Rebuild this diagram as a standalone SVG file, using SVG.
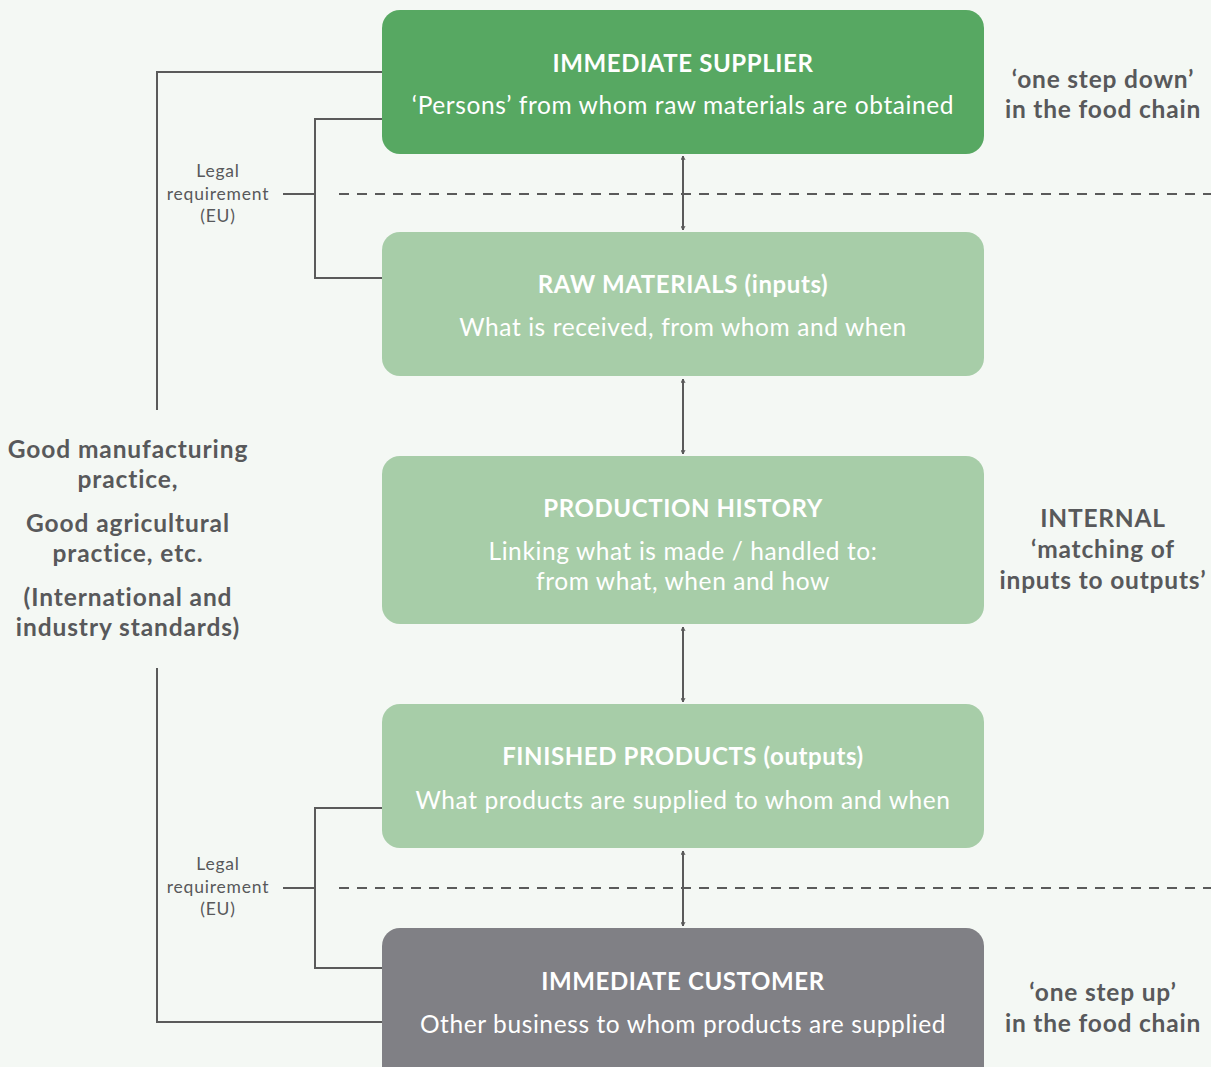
<svg xmlns="http://www.w3.org/2000/svg" width="1211" height="1067" viewBox="0 0 1211 1067">
<defs>
<style>
.bg{fill:#f4f8f4}
.box{stroke:none}
.dark{fill:#57a862}
.light{fill:#a7cda8}
.grey{fill:#808085}
.t{font-family:Lato,"Noto Sans",sans-serif;fill:#ffffff;text-anchor:middle}
.h{font-size:24px;font-weight:bold;letter-spacing:0.6px}
.s{font-size:24.5px;letter-spacing:0.6px}
.side{font-family:Lato,"Noto Sans",sans-serif;fill:#58595b;text-anchor:middle;font-size:24.5px;font-weight:bold;letter-spacing:0.8px}
.left{letter-spacing:0.9px}
.legal{font-family:Lato,"Noto Sans",sans-serif;fill:#58595b;text-anchor:middle;font-size:17.5px;letter-spacing:0.8px}
.ln{fill:none;stroke:#5a5a5a;stroke-width:2}
.dash{fill:none;stroke:#5a5a5a;stroke-width:2;stroke-dasharray:10 8}
.arr{fill:none;stroke:#5a5a5a;stroke-width:2;marker-start:url(#ah);marker-end:url(#ah)}
</style>
<marker id="ah" viewBox="0 0 10 10" refX="9" refY="5" markerWidth="5" markerHeight="5" orient="auto-start-reverse" markerUnits="userSpaceOnUse">
<path d="M1,1 L9,5 L1,9" fill="none" stroke="#5a5a5a" stroke-width="2"/>
</marker>
</defs>
<rect class="bg" x="0" y="0" width="1211" height="1067"/>
<g id="connectors">
<path class="ln" d="M382,72 H157 V410"/>
<path class="ln" d="M157,668 V1022 H382"/>
<path class="ln" d="M382,119 H315 V278 H382"/>
<path class="ln" d="M283,194 H315"/>
<path class="ln" d="M382,808 H315 V968 H382"/>
<path class="ln" d="M283,888 H315"/>
<path class="dash" d="M339,194 H1211"/>
<path class="dash" d="M339,888 H1211"/>
<path class="arr" d="M683,156 V230"/>
<path class="arr" d="M683,379 V454"/>
<path class="arr" d="M683,627 V702"/>
<path class="arr" d="M683,851 V926"/>
</g>
<g id="supplier">
<rect class="box dark" x="382" y="10" width="602" height="144" rx="18"/>
<text class="t h" x="683" y="72">IMMEDIATE SUPPLIER</text>
<text class="t s" x="683" y="114">‘Persons’ from whom raw materials are obtained</text>
</g>
<g id="raw">
<rect class="box light" x="382" y="232" width="602" height="144" rx="18"/>
<text class="t h" x="683" y="293">RAW MATERIALS (inputs)</text>
<text class="t s" x="683" y="336">What is received, from whom and when</text>
</g>
<g id="production">
<rect class="box light" x="382" y="456" width="602" height="168" rx="18"/>
<text class="t h" x="683" y="517">PRODUCTION HISTORY</text>
<text class="t s" x="683" y="560">Linking what is made / handled to:</text>
<text class="t s" x="683" y="590">from what, when and how</text>
</g>
<g id="finished">
<rect class="box light" x="382" y="704" width="602" height="144" rx="18"/>
<text class="t h" x="683" y="765">FINISHED PRODUCTS (outputs)</text>
<text class="t s" x="683" y="809">What products are supplied to whom and when</text>
</g>
<g id="customer">
<rect class="box grey" x="382" y="928" width="602" height="160" rx="18"/>
<text class="t h" x="683" y="990">IMMEDIATE CUSTOMER</text>
<text class="t s" x="683" y="1033">Other business to whom products are supplied</text>
</g>
<g id="legal-top">
<text class="legal" x="218" y="177">Legal</text>
<text class="legal" x="218" y="200">requirement</text>
<text class="legal" x="218" y="222">(EU)</text>
</g>
<g id="legal-bottom">
<text class="legal" x="218" y="870">Legal</text>
<text class="legal" x="218" y="893">requirement</text>
<text class="legal" x="218" y="915">(EU)</text>
</g>
<g id="left-label">
<text class="side left" x="128" y="458">Good manufacturing</text>
<text class="side left" x="128" y="488">practice,</text>
<text class="side left" x="128" y="532">Good agricultural</text>
<text class="side left" x="128" y="562">practice, etc.</text>
<text class="side left" x="128" y="606">(International and</text>
<text class="side left" x="128" y="636">industry standards)</text>
</g>
<g id="right-top">
<text class="side" x="1103" y="88">‘one step down’</text>
<text class="side" x="1103" y="118">in the food chain</text>
</g>
<g id="right-mid">
<text class="side" x="1103" y="527">INTERNAL</text>
<text class="side" x="1103" y="558">‘matching of</text>
<text class="side" x="1103" y="589">inputs to outputs’</text>
</g>
<g id="right-bottom">
<text class="side" x="1103" y="1001">‘one step up’</text>
<text class="side" x="1103" y="1032">in the food chain</text>
</g>
</svg>
